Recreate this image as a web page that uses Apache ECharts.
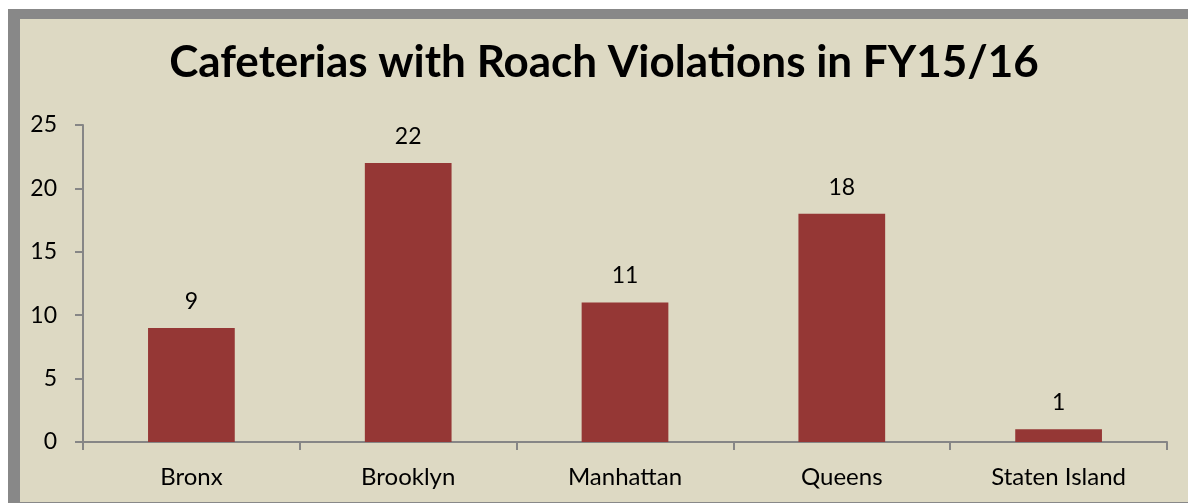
<!DOCTYPE html>
<html>
<head>
<meta charset="utf-8">
<script src="https://cdn.jsdelivr.net/npm/echarts@6/dist/echarts.min.js"></script>
<style>
  html, body { margin: 0; padding: 0; background: #ffffff; width: 1188px; height: 503px; overflow: hidden; }
  #frame { position: absolute; left: 8px; top: 9px; width: 1180px; height: 494px; background: #888888; }
  #chart { position: absolute; left: 20px; top: 19px; width: 1168px; height: 483px; background: #DDD9C3; }
</style>
</head>
<body>
<div id="frame"></div>
<div id="chart"></div>
<script>
const titleText = 'Cafeterias with Roach Violations in FY15/16';
const categories = ['Bronx', 'Brooklyn', 'Manhattan', 'Queens', 'Staten Island'];
const values = [9, 22, 11, 18, 1];
const yTicks = [0, 5, 10, 15, 20, 25];

const chart = echarts.init(document.getElementById('chart'), null, { renderer: 'canvas' });
const font = 'Lato, "Open Sans", sans-serif';
chart.setOption({
  backgroundColor: '#DDD9C3',
  animation: false,
  title: {
    text: titleText,
    left: 'center',
    top: 17,
    textStyle: { fontFamily: font, fontWeight: 'bold', fontSize: 44, color: '#000000' }
  },
  grid: { left: 63, right: 21, top: 106, bottom: 60, containLabel: false },
  xAxis: {
    type: 'category',
    data: categories,
    axisLine: { lineStyle: { color: '#868686', width: 2 } },
    axisTick: { show: true, length: 8, alignWithLabel: false, lineStyle: { color: '#868686', width: 2 } },
    axisLabel: { fontFamily: font, fontSize: 24, color: '#000000', margin: 23 }
  },
  yAxis: {
    type: 'value',
    min: yTicks[0],
    max: yTicks[yTicks.length - 1],
    interval: 5,
    splitLine: { show: false },
    axisLine: { show: true, lineStyle: { color: '#868686', width: 2 } },
    axisTick: { show: true, length: 8, lineStyle: { color: '#868686', width: 2 } },
    axisLabel: { fontFamily: font, fontSize: 23, color: '#000000', margin: 26 }
  },
  series: [{
    type: 'bar',
    data: values,
    barWidth: '40%',
    itemStyle: { color: '#953735' },
    label: { show: true, position: 'top', distance: 15, fontFamily: font, fontSize: 23, color: '#000000' }
  }]
});
</script>
</body>
</html>
